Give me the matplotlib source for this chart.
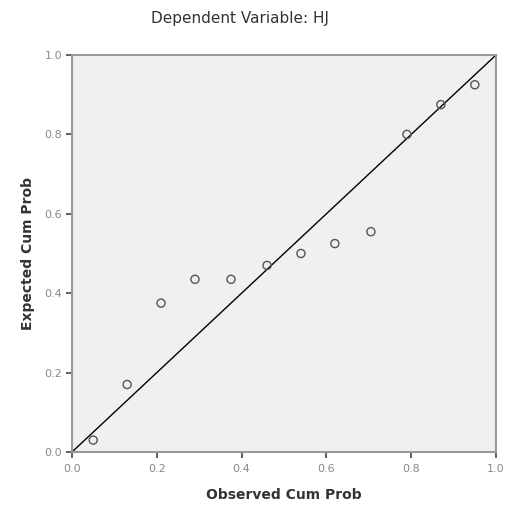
import matplotlib
matplotlib.use("Agg")
import matplotlib.pyplot as plt

# P-P plot values
observed = [0.05, 0.13, 0.21, 0.29, 0.375, 0.46, 0.54, 0.62, 0.705, 0.79, 0.87, 0.95]
expected = [0.03, 0.17, 0.375, 0.435, 0.435, 0.47, 0.50, 0.525, 0.555, 0.80, 0.875, 0.925]
ticks = [0.0, 0.2, 0.4, 0.6, 0.8, 1.0]
tick_labels = ["0.0", "0.2", "0.4", "0.6", "0.8", "1.0"]

fig = plt.figure(figsize=(5.08, 5.13), dpi=100)
ax = fig.add_axes([72 / 508, 61 / 513, 424 / 508, 397 / 513])
ax.set_facecolor("#f0f0f0")

ax.plot([0, 1], [0, 1], color="black", lw=1.0, zorder=2)
ax.scatter(observed, expected, s=34, facecolors="none", edgecolors="#555555",
           linewidths=1.0, zorder=3)

ax.set_xlim(0, 1)
ax.set_ylim(0, 1)
ax.set_xticks(ticks)
ax.set_xticklabels(tick_labels)
ax.set_yticks(ticks)
ax.set_yticklabels(tick_labels)
ax.tick_params(direction="out", length=4, width=1.2, color="#444444",
               labelsize=8, labelcolor="#888888", pad=3)
ax.tick_params(axis="x", pad=5)
for s in ax.spines.values():
    s.set_color("#999999")
    s.set_linewidth(1.5)

ax.set_xlabel("Observed Cum Prob", fontsize=10, fontweight="bold",
              color="#333333", labelpad=10)
ax.set_ylabel("Expected Cum Prob", fontsize=10, fontweight="bold",
              color="#333333", labelpad=7)
fig.text(240 / 508, 1 - 18 / 513, "Dependent Variable: HJ", ha="center",
         va="center", fontsize=11, color="#333333")

fig.savefig("out.png", dpi=100)
